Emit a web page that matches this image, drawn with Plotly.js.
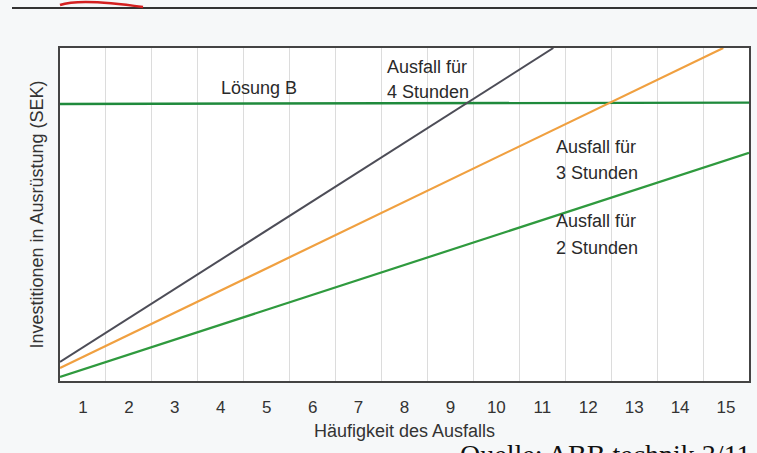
<!DOCTYPE html>
<html>
<head>
<meta charset="utf-8">
<script src="https://cdn.plot.ly/plotly-3.0.1.min.js"></script>
<style>
html,body{margin:0;padding:0;background:#f6f8f9;}
#chart{width:757px;height:453px;}
</style>
</head>
<body>
<div id="chart"></div>
<script>
// Categories (Häufigkeit des Ausfalls)
const tickValues = [1,2,3,4,5,6,7,8,9,10,11,12,13,14,15];
const tickLabels = ["1","2","3","4","5","6","7","8","9","10","11","12","13","14","15"];

// Series (arbitrary investment units 0..100)
const x4h = [0.5, 11.24];
const y4h = [5.7, 100];
const x3h = [0.5, 14.94];
const y3h = [3.9, 100];
const x2h = [0.5, 15.5];
const y2h = [1.2, 68.5];
const xB  = [0.5, 15.5];
const yB  = [83.2, 83.6];

const font = "Liberation Sans, Arial, Helvetica, sans-serif";

const traces = [
  {x: xB, y: yB, mode: "lines", name: "Lösung B", line: {color: "#1f8a3c", width: 2.4}},
  {x: x2h, y: y2h, mode: "lines", name: "Ausfall für 2 Stunden", line: {color: "#2f9a3e", width: 2.2}},
  {x: x3h, y: y3h, mode: "lines", name: "Ausfall für 3 Stunden", line: {color: "#f0a040", width: 2.2}},
  {x: x4h, y: y4h, mode: "lines", name: "Ausfall für 4 Stunden", line: {color: "#4d4d57", width: 2}}
];

// paper coords helper: plot area left=60,width=689, top=48,height=333
function px(xp){ return (xp-60)/689; }
function py(yp){ return (381-yp)/333; }

function label(text, x, y) {
  return {text: text, xref: "paper", yref: "paper", x: px(x), y: py(y),
          xanchor: "left", yanchor: "middle", showarrow: false,
          font: {family: font, size: 18, color: "#2a2a2a"}};
}

const annotations = [
  {text: "Lösung B", xref: "paper", yref: "paper", x: px(259), y: py(88), xanchor: "center", yanchor: "middle",
   showarrow: false, font: {family: font, size: 18, color: "#2a2a2a"}},
  label("Ausfall für", 385, 67),
  label("4 Stunden", 385, 92),
  label("Ausfall für", 554, 147),
  label("3 Stunden", 554, 173),
  label("Ausfall für", 554, 221),
  label("2 Stunden", 554, 248),
  {text: "Quelle: ABB technik 3/11", xref: "paper", yref: "paper", x: px(458), y: py(437),
   xanchor: "left", yanchor: "top", showarrow: false,
   font: {family: "Liberation Serif, Times New Roman, serif", size: 28, color: "#111"}}
];

const layout = {
  width: 757, height: 453,
  margin: {l: 60, r: 8, t: 48, b: 72, autoexpand: false},
  paper_bgcolor: "#f6f8f9",
  plot_bgcolor: "#ffffff",
  showlegend: false,
  font: {family: font, color: "#333"},
  xaxis: {
    range: [0.5, 15.5], tickmode: "array", tickvals: tickValues, ticktext: tickLabels,
    showgrid: false, zeroline: false, ticks: "", ticklabelstandoff: 10,
    tickfont: {family: font, size: 17, color: "#333"},
    showline: true, linecolor: "#444", linewidth: 2, mirror: true,
    minor: {tick0: 0.5, dtick: 1, showgrid: true, gridcolor: "#dcdcdc", gridwidth: 1, ticks: ""},
    title: {text: "Häufigkeit des Ausfalls", font: {family: font, size: 18, color: "#333"}, standoff: 8},
    automargin: false
  },
  yaxis: {
    range: [0, 100], showticklabels: false, showgrid: false, zeroline: false, ticks: "",
    showline: true, linecolor: "#444", linewidth: 2, mirror: true,
    title: {text: "Investitionen in Ausrüstung (SEK)", font: {family: font, size: 18, color: "#333"}, standoff: 10},
    automargin: false
  },
  annotations: annotations,
  shapes: [
    {type: "line", xref: "paper", yref: "paper", x0: px(12), x1: px(757), y0: py(8), y1: py(8),
     line: {color: "#333", width: 2}},
    {type: "path", xref: "paper", yref: "paper",
     path: "M " + px(60) + "," + py(5) + " Q " + px(80) + "," + py(-2) + " " + px(143) + "," + py(7),
     line: {color: "#d42020", width: 2.5}}
  ]
};

Plotly.newPlot("chart", traces, layout, {displayModeBar: false, staticPlot: true});
</script>
</body>
</html>
